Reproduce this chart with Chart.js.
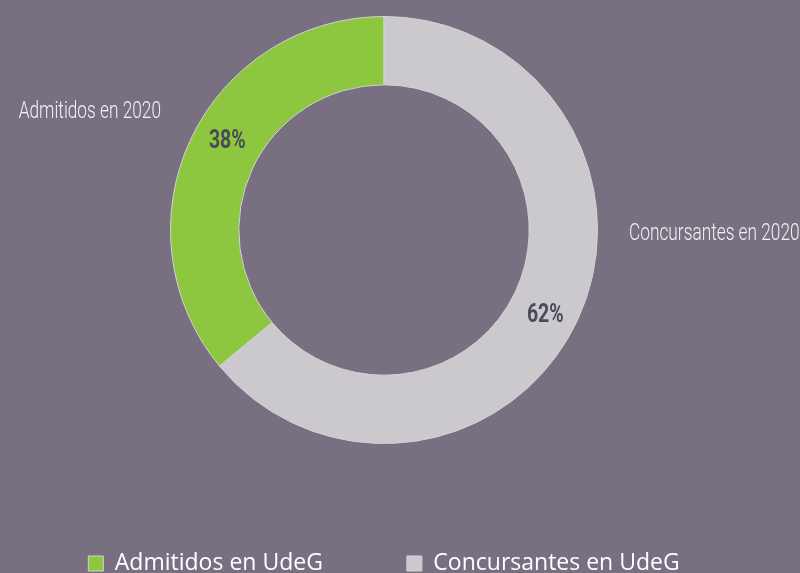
<!DOCTYPE html>
<html>
<head>
<meta charset="utf-8">
<script src="https://cdn.jsdelivr.net/npm/chart.js@4.4.1/dist/chart.umd.min.js"></script>
<style>
    html, body { margin: 0; padding: 0; background: #787080; overflow: hidden; }
    #wrap { position: relative; width: 800px; height: 585px; }
</style>
</head>
<body>
<div id="wrap"><canvas id="chart"></canvas></div>
<script>
// Datos
const legendLabels = ['Admitidos en UdeG', 'Concursantes en UdeG'];
const outerLabels = ['Admitidos en 2020', 'Concursantes en 2020'];
const values = [36, 64];            // tamaño de los sectores tal como se ven
const percentLabels = ['38%', '62%']; // texto impreso en el gráfico
const colors = ['#8dc63f', '#cbc8ce'];

// Texto condensado (escala horizontal)
function condensedText(ctx, text, x, y, k) {
    ctx.save();
    ctx.translate(x, y);
    ctx.scale(k, 1);
    ctx.fillText(text, 0, 0);
    ctx.restore();
}

// Etiquetas de texto alrededor del anillo
const ringLabels = {
    id: 'ringLabels',
    afterDatasetsDraw(chart) {
        const ctx = chart.ctx;
        const arcs = chart.getDatasetMeta(0).data;
        ctx.save();

        // Porcentajes dentro del anillo
        const shift = [5, 2]; // ajuste de ángulo (grados)
        arcs.forEach((arc, i) => {
            const mid = (arc.startAngle + arc.endAngle) / 2 + shift[i] * Math.PI / 180;
            const r = (arc.innerRadius + arc.outerRadius) / 2 + 2;
            const x = arc.x + Math.cos(mid) * r;
            const y = arc.y + Math.sin(mid) * r;
            ctx.font = 'bold 25px Roboto, sans-serif';
            ctx.fillStyle = '#4b4a55';
            ctx.textAlign = 'center';
            ctx.textBaseline = 'alphabetic';
            condensedText(ctx, percentLabels[i], x, y + 9, 0.78);
        });

        // Etiquetas exteriores
        const c = arcs[0];
        ctx.font = '300 24px Roboto, sans-serif';
        ctx.fillStyle = '#f2f1f4';
        ctx.textBaseline = 'alphabetic';
        ctx.textAlign = 'right';
        condensedText(ctx, outerLabels[0], c.x - 223, c.y - 112, 0.72);
        ctx.textAlign = 'left';
        condensedText(ctx, outerLabels[1], c.x + 245, c.y + 10, 0.72);
        ctx.restore();
    }
};

new Chart(document.getElementById('chart'), {
    type: 'doughnut',
    data: {
        labels: legendLabels,
        datasets: [{
            data: values,
            backgroundColor: colors,
            borderColor: '#d4d2d6',
            borderWidth: 1
        }]
    },
    options: {
        responsive: true,
        maintainAspectRatio: false,
        animation: false,
        rotation: -values[0] / 100 * 360,
        cutout: '68%',
        layout: {
            padding: { top: 16, left: 0, right: 32, bottom: 0 }
        },
        plugins: {
            legend: {
                position: 'bottom',
                title: {
                    display: true,
                    text: ' ',
                    font: { size: 10, lineHeight: 1.2 },
                    padding: { top: 0, bottom: 12 }
                },
                labels: {
                    boxWidth: 15,
                    boxHeight: 15,
                    padding: 84,
                    color: '#ffffff',
                    font: { family: '"Open Sans", sans-serif', size: 23 }
                }
            },
            tooltip: { enabled: false }
        }
    },
    plugins: [ringLabels]
});
</script>
</body>
</html>
